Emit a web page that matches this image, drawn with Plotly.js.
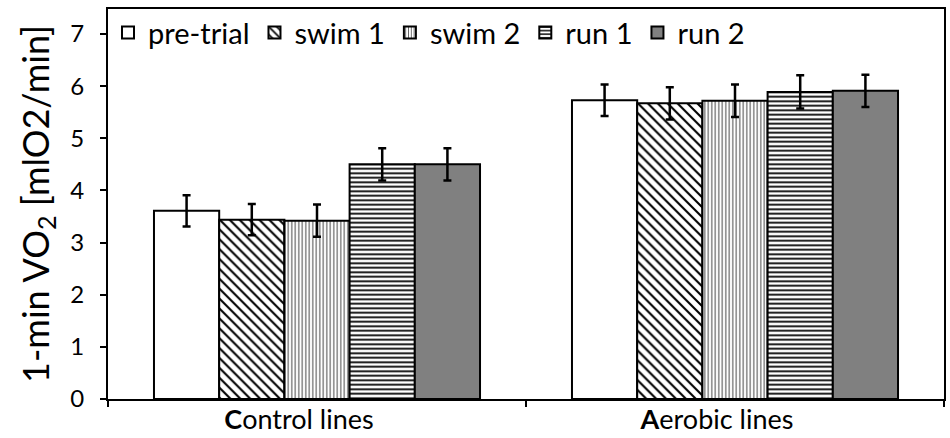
<!DOCTYPE html>
<html><head><meta charset="utf-8">
<script src="https://cdn.plot.ly/plotly-3.0.1.min.js"></script>
<style>body{margin:0;background:#fff}#chart{width:950px;height:438px}</style>
</head><body><div id="chart"></div>
<script>
const categories = ['<b>C</b>ontrol lines', '<b>A</b>erobic lines'];
const seriesNames = ['pre-trial', 'swim 1', 'swim 2', 'run 1', 'run 2'];
const preTrial = [3.61, 5.73];
const swim1 = [3.44, 5.67];
const swim2 = [3.42, 5.72];
const run1 = [4.50, 5.89];
const run2 = [4.50, 5.91];
const preTrialErr = [0.30, 0.30];
const swim1Err = [0.30, 0.31];
const swim2Err = [0.31, 0.31];
const run1Err = [0.31, 0.32];
const run2Err = [0.31, 0.31];
const yTicks = [0, 1, 2, 3, 4, 5, 6, 7];

const values = [preTrial, swim1, swim2, run1, run2];
const errs = [preTrialErr, swim1Err, swim2Err, run1Err, run2Err];
const styles = [
  {color: '#ffffff', pattern: {shape: ''}},
  {color: '#ffffff', pattern: {shape: '\\', fgcolor: '#000000', bgcolor: '#ffffff', size: 7, solidity: 0.3}},
  {color: '#ffffff', pattern: {shape: '|', fgcolor: '#666666', bgcolor: '#ffffff', size: 3.5, solidity: 0.35}},
  {color: '#ffffff', pattern: {shape: '-', fgcolor: '#000000', bgcolor: '#ffffff', size: 4.5, solidity: 0.4}},
  {color: '#808080', pattern: {shape: ''}}
];

const traces = seriesNames.map((n, i) => ({
  type: 'bar', name: n, x: categories, y: values[i],
  marker: {color: styles[i].color, pattern: styles[i].pattern, line: {color: '#000', width: 2}},
  error_y: {type: 'data', array: errs[i], visible: true, color: '#000', thickness: 2.5, width: 4}
}));

const F = 'Lato, "Open Sans", sans-serif';
const layout = {
  width: 950, height: 438,
  margin: {l: 108, r: 6, t: 9, b: 39},
  paper_bgcolor: '#fff', plot_bgcolor: '#fff',
  font: {family: F, color: '#000'},
  barmode: 'group', bargap: 0.22, bargroupgap: 0,
  showlegend: true,
  legend: {orientation: 'h', x: 0.0, y: 1.005, xanchor: 'left', yanchor: 'top',
    font: {size: 29, family: F}, bgcolor: 'rgba(0,0,0,0)', itemwidth: 30, tracegroupgap: 0},
  xaxis: {type: 'category', showline: true, linecolor: '#000', linewidth: 2, mirror: true,
    ticks: 'outside', tickson: 'boundaries', ticklen: 6, tickwidth: 2, tickcolor: '#000',
    tickfont: {size: 27, family: F}, ticklabelshift: -18, ticklabelstandoff: -4,
    showgrid: false, zeroline: false},
  yaxis: {range: [0, 7.48], tickvals: yTicks, showline: true, linecolor: '#000', linewidth: 2, mirror: true,
    ticks: 'outside', ticklen: 6, tickwidth: 2, tickcolor: '#000', showgrid: false, zeroline: false,
    tickfont: {size: 24, family: F}, ticklabelstandoff: 11,
    title: {text: '1-min VO<sub>2</sub> [mlO2/min]', font: {size: 36, family: F}, standoff: 10}}
};

Plotly.newPlot('chart', traces, layout, {displayModeBar: false, staticPlot: true});
</script></body></html>
